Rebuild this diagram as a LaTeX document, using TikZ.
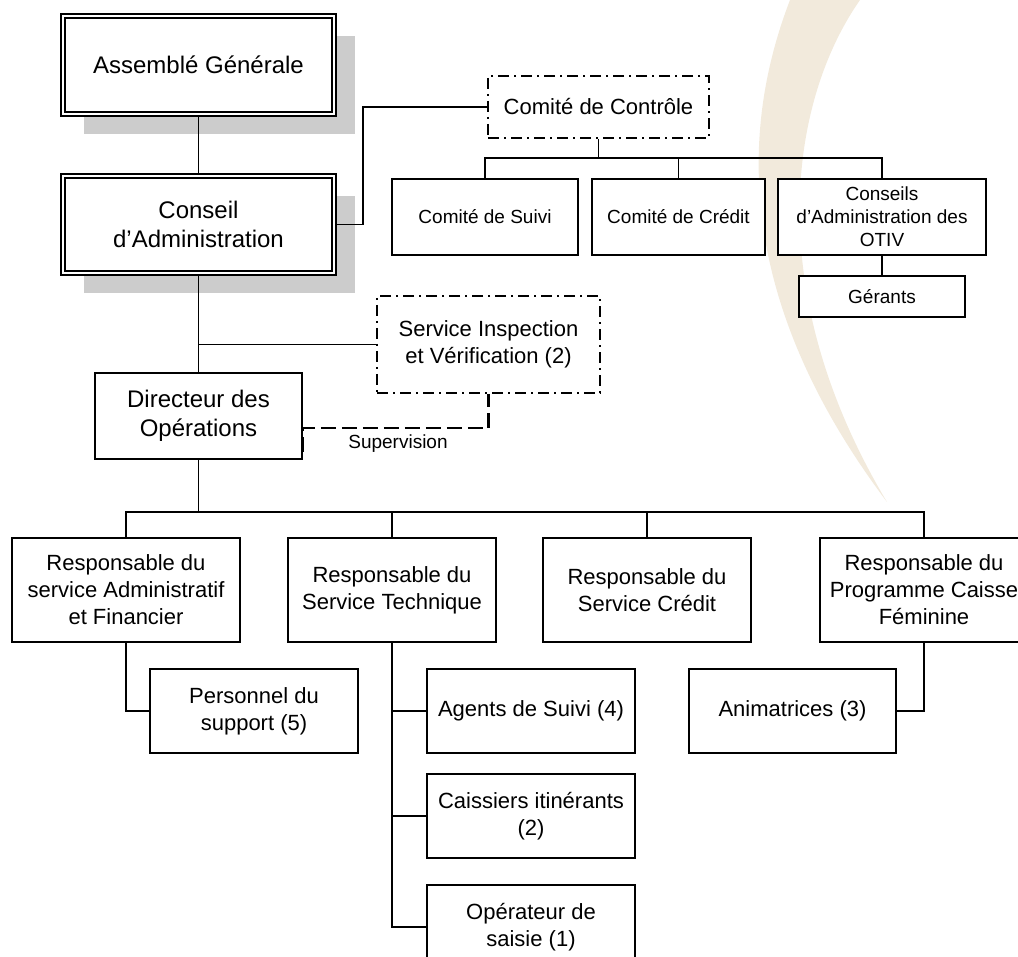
\documentclass[tikz,border=0pt]{standalone}
\usepackage{fontspec}
\setmainfont{Liberation Sans}
\usetikzlibrary{shadows}
\definecolor{shgray}{RGB}{204,204,204}
\definecolor{crescent}{RGB}{242,234,220}
\begin{document}
\begin{tikzpicture}[x=1pt,y=-1pt,
  fsA/.style={font=\fontsize{24}{29}\selectfont},
  fsB/.style={font=\fontsize{22}{27}\selectfont},
  fsC/.style={font=\fontsize{19}{23}\selectfont},
  box/.style={draw=black, line width=1.5pt, fill=white, inner sep=0pt, align=center},
  dblbox/.style={draw=black, line width=1.9pt, double=white, double distance=2pt,
    fill=white, inner sep=0pt, align=center, outer sep=2.9pt,
    drop shadow={shadow xshift=21pt, shadow yshift=-20pt, fill=shgray, opacity=1}},
  dashdotbox/.style={draw=black, line width=2.6pt, fill=white, inner sep=0pt, align=center,
    dash pattern=on 11pt off 5pt on 2pt off 5pt},
  conn/.style={draw=black, line width=1.5pt},
  superv/.style={draw=black, line width=2.6pt, dash pattern=on 15pt off 6pt},
]
\useasboundingbox (0,0) rectangle (1018,957);

% background crescent
\fill[crescent] (790,0) .. controls (740,130) and (735,300) .. (887,502)
  .. controls (760,290) and (790,100) .. (860,0) -- cycle;

% top level
\node[dblbox, fsA, minimum width=271pt, minimum height=98pt] (ag) at (198.5,65) {Assemblé Générale};
\node[dblbox, fsA, minimum width=271pt, minimum height=97pt] (ca) at (198.5,224.5) {Conseil\\d’Administration};

% committees
\node[dashdotbox, fsB, minimum width=221pt, minimum height=62pt] (cc) at (598.5,107) {Comité de Contrôle};
\node[box, fsC, minimum width=186pt, minimum height=76pt] (suivi) at (485,217) {Comité de Suivi};
\node[box, fsC, minimum width=173pt, minimum height=76pt] (ccred) at (678.5,217) {Comité de Crédit};
\node[box, fsC, minimum width=208pt, minimum height=76pt] (otiv) at (882,217) {Conseils\\d’Administration des\\OTIV};
\node[box, fsC, minimum width=166pt, minimum height=41pt] (ger) at (882,296.5) {Gérants};

% inspection & director
\node[dashdotbox, fsB, minimum width=223pt, minimum height=97pt] (svi) at (488.5,344.5) {Service Inspection\\et Vérification (2)};
\node[box, fsA, minimum width=207pt, minimum height=86pt] (dir) at (198.5,416) {Directeur des\\Opérations};
\node[fsC, inner sep=0pt] (suplabel) at (398,444) {Supervision};

% services
\node[box, fsB, minimum width=228pt, minimum height=104pt] (adm) at (126,590) {Responsable du\\service Administratif\\et Financier};
\node[box, fsB, minimum width=208pt, minimum height=104pt] (tech) at (392,590) {Responsable du\\Service Technique};
\node[box, fsB, minimum width=208pt, minimum height=104pt] (cred) at (647,590) {Responsable du\\Service Crédit};
\node[box, fsB, minimum width=208pt, minimum height=104pt] (caf) at (924,590) {Responsable du\\Programme Caisse\\Féminine};

% staff
\node[box, fsB, minimum width=208pt, minimum height=84pt] (pers) at (254,711) {Personnel du\\support (5)};
\node[box, fsB, minimum width=208pt, minimum height=84pt] (agents) at (531,711) {Agents de Suivi (4)};
\node[box, fsB, minimum width=208pt, minimum height=84pt] (caiss) at (531,816) {Caissiers itinérants\\(2)};
\node[box, fsB, minimum width=208pt, minimum height=84pt] (oper) at (531,927) {Opérateur de\\saisie (1)};
\node[box, fsB, minimum width=207pt, minimum height=84pt] (anim) at (792.5,711) {Animatrices (3)};

% bus coordinates
\coordinate (cbus) at (598.5,158);
\coordinate (bus) at (198.5,512);

% connectors
\draw[conn] (ag.south) -- (ca.north);
\draw[conn] (ca.east) -- ++(26,0) |- (cc.west);
\draw[conn] (cc.south) -- (cbus);
\draw[conn] (suivi.north) |- (cbus) -| (otiv.north);
\draw[conn] (ccred.north) -- (ccred.north |- cbus);
\draw[conn] (otiv.south) -- (ger.north);

\draw[conn] (ca.south) -- (dir.north);
\draw[conn] (svi.west) -- (svi.west -| ca.south);
\draw[superv] ([yshift=-36pt]dir.east) -- ([yshift=-12pt]dir.east) -| (svi.south);

\draw[conn] (dir.south) -- (bus);
\draw[conn] (adm.north) |- (bus) -| (caf.north);
\draw[conn] (tech.north) -- (tech.north |- bus);
\draw[conn] (cred.north) -- (cred.north |- bus);

\draw[conn] (adm.south) |- (pers.west);
\draw[conn] (tech.south) |- (oper.west);
\draw[conn] (agents.west) -- (agents.west -| tech.south);
\draw[conn] (caiss.west) -- (caiss.west -| tech.south);
\draw[conn] (caf.south) |- (anim.east);
\end{tikzpicture}
\end{document}
